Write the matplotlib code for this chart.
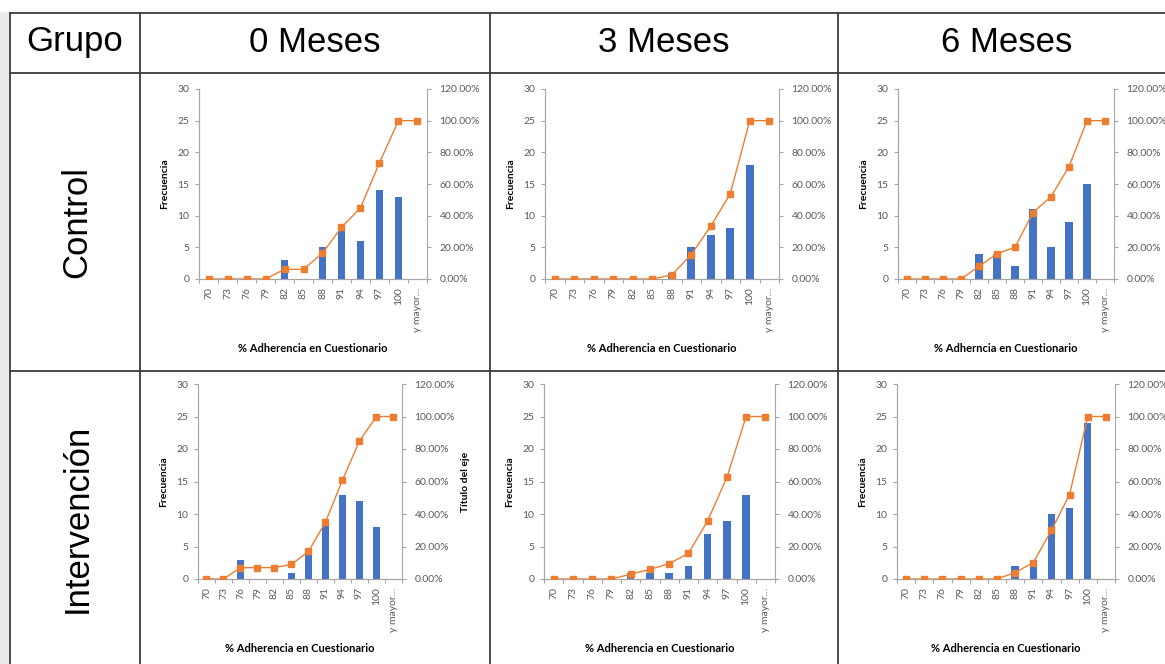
import numpy as np
import matplotlib
matplotlib.use("Agg")
import matplotlib.pyplot as plt
from matplotlib.lines import Line2D
from matplotlib.patches import Rectangle
from matplotlib.ticker import FuncFormatter

# ==========================================
# Data
# ==========================================
categories = ["70", "73", "76", "79", "82", "85", "88", "91", "94", "97", "100", "y mayor..."]

row_labels = ["Control", "Intervención"]
col_labels = ["0 Meses", "3 Meses", "6 Meses"]

# frequencies per bin
control_0_freq = [0, 0, 0, 0, 3, 0, 5, 8, 6, 14, 13, 0]
control_3_freq = [0, 0, 0, 0, 0, 0, 1, 5, 7, 8, 18, 0]
control_6_freq = [0, 0, 0, 0, 4, 4, 2, 11, 5, 9, 15, 0]
interv_0_freq = [0, 0, 3, 0, 0, 1, 4, 9, 13, 12, 8, 0]
interv_3_freq = [0, 0, 0, 0, 1, 1, 1, 2, 7, 9, 13, 0]
interv_6_freq = [0, 0, 0, 0, 0, 0, 2, 3, 10, 11, 24, 0]

# cumulative percentage (%)
control_0_cum = [0, 0, 0, 0, 6.12, 6.12, 16.33, 32.65, 44.90, 73.47, 100, 100]
control_3_cum = [0, 0, 0, 0, 0, 0, 2.56, 15.38, 33.33, 53.85, 100, 100]
control_6_cum = [0, 0, 0, 0, 8, 16, 20, 42, 52, 71, 100, 100]
interv_0_cum = [0, 0, 7, 7, 7, 9, 17, 35, 61, 85, 100, 100]
interv_3_cum = [0, 0, 0, 0, 2.94, 5.88, 9.5, 15.7, 35.8, 62.5, 100, 100]
interv_6_cum = [0, 0, 0, 0, 0, 0, 4, 10, 30, 52, 100, 100]

xlabel_main = "% Adherencia en Cuestionario"
xlabel_typo = "% Adherncia en Cuestionario"

# ==========================================
# Layout (pixels of a 1165x664 canvas)
# ==========================================
W, H = 1165, 664
BAR_COLOR = "#4472C4"
LINE_COLOR = "#ED7D31"
AXIS_COLOR = "#A6A6A6"
TEXT_COLOR = "#595959"
CHART_FONT = "Lato"

panels = [
    # freq, cum, axes box (x0, ytop, x1, yzero), x label, right label
    (control_0_freq, control_0_cum, (199, 89, 427, 279), xlabel_main, None),
    (control_3_freq, control_3_cum, (545, 89, 779, 279), xlabel_main, None),
    (control_6_freq, control_6_cum, (898, 89, 1114, 279), xlabel_typo, None),
    (interv_0_freq, interv_0_cum, (198, 384, 402, 579), xlabel_main, "Título del eje"),
    (interv_3_freq, interv_3_cum, (544, 384, 775, 579), xlabel_main, None),
    (interv_6_freq, interv_6_cum, (897, 384, 1115, 579), xlabel_main, None),
]


def fx(px):
    return px / W


def fy(py):
    return 1 - py / H


fig = plt.figure(figsize=(W / 100, H / 100), dpi=100)

# light strip on the far left like the screenshot
fig.patches.append(Rectangle((0, 0), fx(9), fy(12), transform=fig.transFigure,
                             color="#EBEBEB", zorder=0))

# ==========================================
# Table grid
# ==========================================
grid_kw = dict(color="#3C3C3C", linewidth=1.3, transform=fig.transFigure)
for gx in [10, 140, 490, 838]:
    fig.add_artist(Line2D([fx(gx), fx(gx)], [fy(13), 0], **grid_kw))
for gy in [13, 73, 371]:
    fig.add_artist(Line2D([fx(10), 1], [fy(gy), fy(gy)], **grid_kw))

head_kw = dict(fontsize=25, family="Liberation Sans", color="black", ha="center", va="center")
fig.text(fx(75), fy(42), "Grupo", **head_kw)
for cx, lab in zip([315, 664, 1007], col_labels):
    fig.text(fx(cx), fy(42), lab, **head_kw)
for cy, lab in zip([222, 518], row_labels):
    fig.text(fx(77), fy(cy), lab, rotation=90, **head_kw)

# ==========================================
# Histogram + cumulative line panels
# ==========================================
xpos = np.arange(len(categories))
for freq, cum, (x0, y0, x1, y1), xlab, rlab in panels:
    ax = fig.add_axes([fx(x0), fy(y1), fx(x1 - x0), (y1 - y0) / H])
    ax.bar(xpos, freq, width=0.4, color=BAR_COLOR, zorder=2)
    ax.set_xlim(-0.5, len(categories) - 0.5)
    ax.set_ylim(0, 30)
    ax.set_yticks(range(0, 31, 5))

    ax.set_xticks(xpos)
    ax.set_xticklabels(categories, rotation=90, va="top", ha="center")
    ax.set_xticks(np.arange(-0.5, len(categories), 1), minor=True)
    ax.tick_params(axis="x", which="major", length=0, pad=6)
    ax.tick_params(axis="x", which="minor", length=3, width=0.8, color=AXIS_COLOR, direction="out")
    ax.tick_params(axis="y", length=3, width=0.8, color=AXIS_COLOR, pad=4)
    ax.tick_params(labelsize=7.5, labelcolor=TEXT_COLOR)

    ax2 = ax.twinx()
    ax2.plot(xpos, np.array(cum) / 100, color=LINE_COLOR, linewidth=1.0,
             marker="s", markersize=3.8, zorder=3)
    ax2.set_ylim(0, 1.2)
    ax2.set_yticks(np.arange(0, 1.21, 0.2))
    ax2.yaxis.set_major_formatter(FuncFormatter(lambda v, p: f"{v * 100:.2f}%"))
    ax2.tick_params(axis="y", length=3, width=0.8, color=AXIS_COLOR, pad=6,
                    labelsize=7.5, labelcolor=TEXT_COLOR)

    for a in (ax, ax2):
        a.spines["top"].set_visible(False)
        for s in ("left", "right", "bottom"):
            a.spines[s].set_color(AXIS_COLOR)
            a.spines[s].set_linewidth(0.8)
        for t in a.get_xticklabels() + a.get_yticklabels():
            t.set_family(CHART_FONT)
    ax.spines["right"].set_visible(False)

    # axis titles
    fig.text(fx(x0 - 34), fy((y0 + y1) / 2), "Frecuencia", rotation=90, ha="center", va="center",
             fontsize=7.5, fontweight="bold", family=CHART_FONT, color="black")
    fig.text(fx((x0 + x1) / 2), fy(y1 + 70), xlab, ha="center", va="center",
             fontsize=8, fontweight="bold", family=CHART_FONT, color="black")
    if rlab:
        fig.text(fx(x1 + 64), fy((y0 + y1) / 2), rlab, rotation=90, ha="center", va="center",
                 fontsize=7.5, fontweight="bold", family=CHART_FONT, color="black")

fig.savefig("out.png", dpi=100)
